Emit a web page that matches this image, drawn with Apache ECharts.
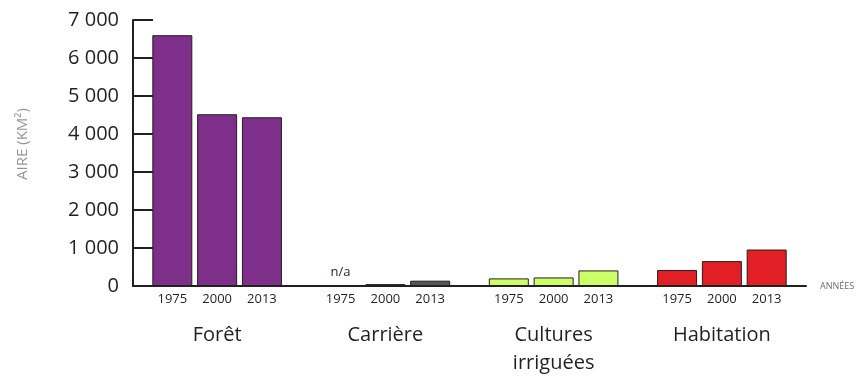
<!DOCTYPE html>
<html>
<head>
<meta charset="utf-8">
<script src="https://cdn.jsdelivr.net/npm/echarts@6/dist/echarts.min.js"></script>
<style>
html,body{margin:0;padding:0;background:#fff;}
#c{width:858px;height:377px;}
</style>
</head>
<body>
<div id="c"></div>
<script>
var categories = ['Forêt', 'Carrière', 'Cultures\nirriguées', 'Habitation'];
var years = ['1975', '2000', '2013'];
var v1975 = [6600, null, 200, 420];
var v2000 = [4520, 50, 225, 655];
var v2013 = [4440, 140, 410, 960];
var groupColors = ['#7E2F8A', '#555555', '#CCFF66', '#E31F26'];
var yTicks = [0, 1000, 2000, 3000, 4000, 5000, 6000, 7000];

var TEXT = '#231F20';
var FONT = 'Open Sans';

function fmt(v) {
  return String(v).replace(/\B(?=(\d{3})+(?!\d))/g, ' ');
}

function buildSeries(name, values) {
  return {
    name: name,
    type: 'bar',
    barWidth: 40,
    barGap: '12%',
    label: {
      show: true,
      position: 'bottom',
      distance: 7,
      formatter: name,
      fontSize: 13,
      fontFamily: FONT,
      color: TEXT
    },
    data: values.map(function (v, i) {
      if (v === null) {
        return {
          value: 0,
          itemStyle: { color: 'transparent', borderWidth: 0 },
          label: {
            position: 'inside',
            formatter: 'n/a\n\n' + name,
            lineHeight: 13.5,
            fontSize: 13,
            color: TEXT
          }
        };
      }
      return {
        value: v,
        itemStyle: { color: groupColors[i] }
      };
    }),
    itemStyle: { borderColor: TEXT, borderWidth: 1 }
  };
}

var chart = echarts.init(document.getElementById('c'));
chart.setOption({
  animation: false,
  textStyle: { fontFamily: FONT },
  grid: { left: 133, right: 52, top: 20, bottom: 91 },
  xAxis: {
    type: 'category',
    data: categories,
    name: 'ANNÉES',
    nameLocation: 'end',
    nameGap: 14,
    nameTextStyle: { fontSize: 9, color: '#6D6E71', fontFamily: FONT, padding: [28, 0, 0, 0] },
    axisLine: { lineStyle: { color: TEXT, width: 2 } },
    axisTick: { inside: true, length: 7, lineStyle: { color: TEXT, width: 2 } },
    axisLabel: { fontSize: 20, margin: 35, lineHeight: 28, color: TEXT, fontFamily: FONT }
  },
  yAxis: {
    type: 'value',
    min: 0,
    max: 7000,
    interval: 1000,
    name: 'AIRE (KM²)',
    nameLocation: 'middle',
    nameGap: 103,
    nameTextStyle: { fontSize: 15, color: '#939598', fontFamily: FONT, padding: [0, 0, 0, 18] },
    splitLine: { show: false },
    axisLine: { show: true, lineStyle: { color: TEXT, width: 2 } },
    axisTick: { show: true, inside: true, length: 20, lineStyle: { color: TEXT, width: 2 } },
    axisLabel: { fontSize: 20, margin: 14, color: TEXT, fontFamily: FONT, formatter: fmt }
  },
  series: [
    buildSeries(years[0], v1975),
    buildSeries(years[1], v2000),
    buildSeries(years[2], v2013)
  ]
});
</script>
</body>
</html>
